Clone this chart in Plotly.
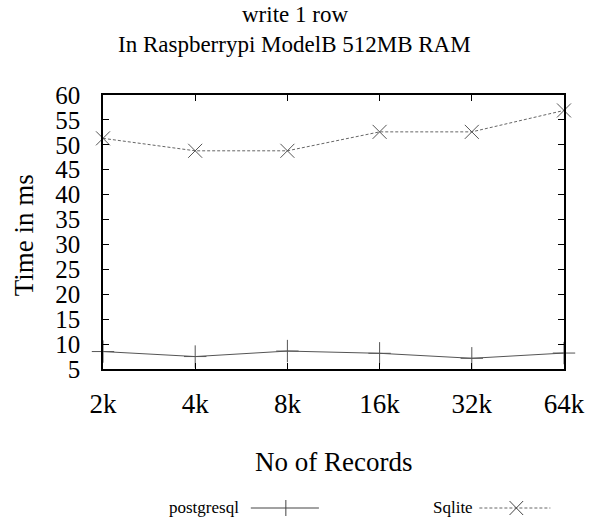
import plotly.graph_objects as go

records = ["2k", "4k", "8k", "16k", "32k", "64k"]
postgresql_ms = [8.5, 7.5, 8.6, 8.15, 7.15, 8.2]
sqlite_ms = [51.3, 48.8, 48.8, 52.6, 52.6, 56.9]
y_ticks = list(range(5, 61, 5))

FONT = "Liberation Serif"
W, H = 597, 525
L, R, T, B = 103, 20, 95, 156
PW, PH = W - L - R, H - T - B


def px(x):
    return (x - L) / PW


def py(y):
    return (H - B - y) / PH


fig = go.Figure()
fig.add_trace(go.Scatter(
    x=records, y=postgresql_ms, name="postgresql", mode="lines+markers",
    line=dict(color="#555555", width=1),
    marker=dict(symbol="cross-thin", size=16, line=dict(color="#555555", width=1)),
    showlegend=False, cliponaxis=False))
fig.add_trace(go.Scatter(
    x=records, y=sqlite_ms, name="Sqlite", mode="lines+markers",
    line=dict(color="#666666", width=1, dash="3px,2px"),
    marker=dict(symbol="x-thin", size=14, line=dict(color="#555555", width=1)),
    showlegend=False, cliponaxis=False))

fig.update_layout(
    width=W, height=H,
    margin=dict(l=L, r=R, t=T, b=B),
    paper_bgcolor="white", plot_bgcolor="white",
    xaxis=dict(type="category", range=[0, 5], showline=True, linecolor="black", linewidth=1.5,
               mirror="ticks", ticks="inside", ticklen=6, tickcolor="black", tickwidth=1,
               showgrid=False, zeroline=False,
               tickfont=dict(family=FONT, size=27, color="black"),
               ticklabelstandoff=10),
    yaxis=dict(range=[5, 60], tickvals=y_ticks, showline=True, linecolor="black", linewidth=1.5,
               mirror="ticks", ticks="inside", ticklen=6, tickcolor="black", tickwidth=1,
               showgrid=False, zeroline=False,
               tickfont=dict(family=FONT, size=25, color="black"),
               ticklabelstandoff=16),
)

ann = [
    dict(text="write 1 row", x=px(300), y=py(15), size=23),
    dict(text="In Raspberrypi ModelB 512MB RAM", x=px(300), y=py(45), size=23),
    dict(text="No of Records", x=px(340), y=py(462), size=27),
    dict(text="Time in ms", x=px(22), y=py(235), size=27, textangle=-90),
    dict(text="postgresql", x=px(245), y=py(508), size=17, xanchor="right"),
    dict(text="Sqlite", x=px(485), y=py(508), size=17, xanchor="right"),
]
for a in ann:
    fig.add_annotation(text=a["text"], x=a["x"], y=a["y"], xref="paper", yref="paper",
                       showarrow=False, xanchor=a.get("xanchor", "center"), yanchor="middle",
                       textangle=a.get("textangle", 0),
                       font=dict(family=FONT, size=a["size"], color="black"))

# legend samples
shape_line = dict(color="#444444", width=1)
fig.add_shape(type="line", xref="paper", yref="paper", x0=px(255), x1=px(325), y0=py(508), y1=py(508), line=shape_line)
fig.add_shape(type="line", xref="paper", yref="paper", x0=px(291), x1=px(291), y0=py(500), y1=py(516), line=shape_line)
fig.add_shape(type="line", xref="paper", yref="paper", x0=px(490), x1=px(563), y0=py(508), y1=py(508),
              line=dict(color="#666666", width=1, dash="3px,2px"))
fig.add_shape(type="line", xref="paper", yref="paper", x0=px(521), x1=px(535), y0=py(501), y1=py(515), line=shape_line)
fig.add_shape(type="line", xref="paper", yref="paper", x0=px(521), x1=px(535), y0=py(515), y1=py(501), line=shape_line)

fig.write_html("out.html")
